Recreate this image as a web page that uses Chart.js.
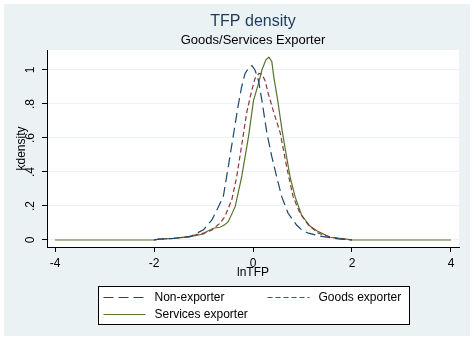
<html lang="en">
<head>
<meta charset="UTF-8">
<title>TFP density</title>
<script src="https://cdn.jsdelivr.net/npm/chart.js"></script>
<style>
  body { margin: 0; background: #fff; }
  #wrap { width: 474px; height: 340px; position: relative; }
</style>
</head>
<body>
<div id="wrap"><canvas id="tfpChart" width="474" height="340"></canvas></div>
<script>
// tick values / labels
const xTickValues = [-4, -2, 0, 2, 4];
const yTickValues = [0, 0.2, 0.4, 0.6, 0.8, 1];
const yTickLabels = ['0', '.2', '.4', '.6', '.8', '1'];
const seriesNames = ['Non-exporter', 'Goods exporter', 'Services exporter'];

// kdensity curves (lnTFP, density)
const nonExpX = [-2.0, -1.9, -1.6, -1.27, -1.0, -0.83, -0.73, -0.6, -0.5, -0.4, -0.3, -0.23, -0.16, -0.07, -0.02, 0.04, 0.11, 0.18, 0.28, 0.38, 0.48, 0.58, 0.71, 0.88, 1.0, 1.12, 1.35, 1.6, 1.76, 2.0];
const nonExpY = [0, 0.005, 0.01, 0.02, 0.06, 0.118, 0.176, 0.255, 0.43, 0.61, 0.79, 0.9, 0.98, 1.02, 1.025, 1.0, 0.94, 0.82, 0.63, 0.49, 0.37, 0.255, 0.157, 0.088, 0.055, 0.04, 0.023, 0.012, 0.005, 0];

const goodsX = [-2.0, -1.9, -1.6, -1.3, -1.1, -1.0, -0.83, -0.67, -0.57, -0.43, -0.33, -0.2, -0.13, -0.05, 0.04, 0.12, 0.18, 0.24, 0.31, 0.41, 0.55, 0.68, 0.81, 0.95, 1.12, 1.32, 1.45, 1.62, 1.85, 2.0];
const goodsY = [0, 0.005, 0.01, 0.02, 0.035, 0.04, 0.059, 0.098, 0.137, 0.235, 0.37, 0.61, 0.745, 0.85, 0.95, 0.98, 0.975, 0.94, 0.86, 0.76, 0.63, 0.43, 0.255, 0.157, 0.088, 0.04, 0.027, 0.014, 0.005, 0];

const servX = [-4, -2.0, -1.9, -1.6, -1.27, -1.0, -0.94, -0.8, -0.67, -0.57, -0.5, -0.36, -0.23, -0.09, 0.01, 0.11, 0.18, 0.26, 0.32, 0.38, 0.42, 0.5, 0.58, 0.66, 0.75, 0.85, 0.98, 1.15, 1.32, 1.56, 1.89, 2.0, 4];
const servY = [0, 0, 0.005, 0.01, 0.02, 0.035, 0.049, 0.069, 0.075, 0.09, 0.108, 0.196, 0.37, 0.61, 0.82, 0.92, 1.0, 1.06, 1.075, 1.05, 0.96, 0.82, 0.66, 0.52, 0.37, 0.255, 0.147, 0.082, 0.049, 0.016, 0.005, 0, 0];

const FONT = 'Liberation Sans, Arial, sans-serif';

function pts(xs, ys) {
  return xs.map((x, i) => ({ x: x, y: ys[i] }));
}

// stata-ish background: light blue graph region, white plot region
const bgPlugin = {
  id: 'bgPlugin',
  beforeDraw(chart) {
    const ctx = chart.ctx, a = chart.chartArea;
    ctx.save();
    ctx.fillStyle = '#fff';
    ctx.fillRect(0, 0, chart.width, chart.height);
    ctx.fillStyle = '#eaf2f3';
    ctx.fillRect(4, 4, chart.width - 8, chart.height - 8);
    ctx.fillStyle = '#fff';
    ctx.fillRect(a.left + 1, a.top, a.right - a.left - 1, a.bottom - a.top);
    ctx.restore();
  }
};

// boxed legend, two columns
const legendBox = {
  id: 'legendBox',
  afterDraw(chart) {
    const ctx = chart.ctx, a = chart.chartArea;
    const w = 311, h = 38;
    const x0 = Math.round((a.left + a.right) / 2 - w / 2) + 0.5;
    const y0 = chart.height - 54 + 0.5;
    ctx.save();
    ctx.fillStyle = '#fff';
    ctx.fillRect(x0, y0, w, h);
    ctx.strokeStyle = '#000';
    ctx.lineWidth = 1;
    ctx.strokeRect(x0, y0, w, h);
    const slots = [[5, 11], [169, 11], [5, 28]];
    ctx.font = '12px ' + FONT;
    ctx.textBaseline = 'middle';
    ctx.textAlign = 'left';
    chart.data.datasets.forEach((ds, i) => {
      const dx = slots[i][0], dy = slots[i][1];
      ctx.setLineDash(ds.borderDash || []);
      ctx.strokeStyle = ds.borderColor;
      ctx.lineWidth = ds.borderWidth;
      ctx.beginPath();
      ctx.moveTo(x0 + dx, y0 + dy);
      ctx.lineTo(x0 + dx + 42, y0 + dy);
      ctx.stroke();
      ctx.setLineDash([]);
      ctx.fillStyle = '#000';
      ctx.fillText(ds.label, x0 + dx + 51, y0 + dy);
    });
    ctx.restore();
  }
};

Chart.defaults.font.family = FONT;
Chart.defaults.color = '#000';

new Chart(document.getElementById('tfpChart').getContext('2d'), {
  type: 'line',
  data: {
    datasets: [
      { label: seriesNames[0], data: pts(nonExpX, nonExpY), borderColor: '#1a476f', borderWidth: 1.2, borderDash: [10, 5] },
      { label: seriesNames[1], data: pts(goodsX, goodsY), borderColor: '#90353b', borderWidth: 1.2, borderDash: [5, 3] },
      { label: seriesNames[2], data: pts(servX, servY), borderColor: '#55752f', borderWidth: 1.2 }
    ]
  },
  options: {
    responsive: false,
    animation: false,
    elements: { point: { radius: 0 }, line: { tension: 0, fill: false } },
    layout: { padding: { top: 4, left: 0, right: 15, bottom: 60 } },
    plugins: {
      legend: { display: false },
      tooltip: { enabled: false },
      title: {
        display: true, text: 'TFP density', fullSize: false, color: '#1c3a5e',
        font: { size: 16, weight: 'normal' }, padding: { top: 8, bottom: 0 }
      },
      subtitle: {
        display: true, text: 'Goods/Services Exporter', fullSize: false, color: '#000',
        font: { size: 13 }, padding: { top: 1, bottom: 2.2 }
      }
    },
    scales: {
      x: {
        type: 'linear', min: -4.162, max: 4.162,
        afterBuildTicks: (s) => { s.ticks = xTickValues.map(v => ({ value: v })); },
        afterFit: (s) => { s.height = 33; },
        ticks: { font: { size: 12 }, padding: 4, maxRotation: 0 },
        grid: { drawOnChartArea: false, tickLength: 5, tickColor: '#000' },
        border: { color: '#000', width: 1 },
        title: { display: true, text: 'lnTFP', font: { size: 12 }, padding: 0 }
      },
      y: {
        min: -0.0412, max: 1.1176,
        afterBuildTicks: (s) => { s.ticks = yTickValues.map(v => ({ value: v })); },
        afterFit: (s) => { s.width = 47; },
        ticks: {
          font: { size: 12 }, padding: 6, minRotation: 90, maxRotation: 90, crossAlign: 'center',
          callback: (v, i) => yTickLabels[i]
        },
        grid: { color: '#eaf2f3', lineWidth: 1, tickLength: 5, tickColor: '#000' },
        border: { color: '#000', width: 1 },
        title: { display: true, text: 'kdensity', font: { size: 12 }, padding: { top: 14, bottom: 0 } }
      }
    }
  },
  plugins: [bgPlugin, legendBox]
});
</script>
</body>
</html>
